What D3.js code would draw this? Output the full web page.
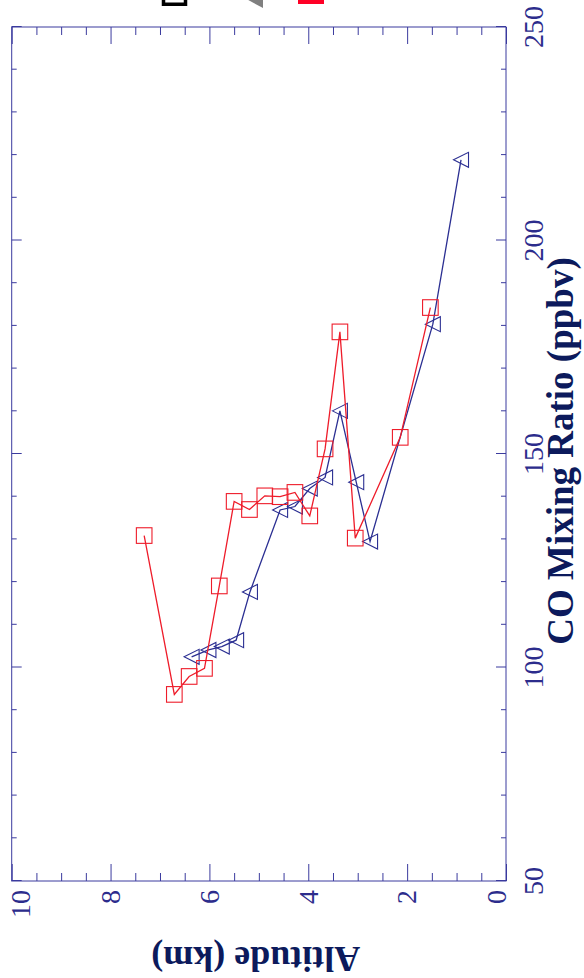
<!DOCTYPE html>
<html>
<head>
<meta charset="utf-8">
<script src="https://cdn.jsdelivr.net/npm/d3@7"></script>
<style>
  html, body { margin: 0; padding: 0; background: #fff; overflow: hidden; }
  svg { display: block; }
</style>
</head>
<body>
<svg id="chart" width="584" height="978"></svg>
<script>
// CO profiles: altitude (km) against CO mixing ratio (ppbv)
const coTicks = [50, 100, 150, 200, 250];
const altTicks = [0, 2, 4, 6, 8, 10];

// Profile drawn with open triangles
const triAlt = [0.91, 1.48, 2.75, 3.03, 3.36, 3.66, 3.97, 4.27, 4.57, 5.18, 5.46, 5.75, 6.02, 6.36];
const triCO  = [218.9, 180.4, 129.5, 143.4, 160.1, 144.5, 141.9, 137.7, 136.9, 117.7, 106.4, 104.9, 104.1, 102.5];

// Profile drawn with open squares
const sqAlt = [1.53, 2.14, 3.05, 3.36, 3.66, 3.97, 4.27, 4.57, 4.88, 5.19, 5.50, 5.80, 6.10, 6.41, 6.71, 7.32];
const sqCO  = [184.3, 153.9, 130.3, 178.6, 151.2, 135.5, 141.0, 140.0, 140.2, 137.0, 138.9, 119.1, 99.8, 97.9, 93.7, 130.9];

// Legend symbols (their labels fall outside the page)
const legendSymbols = ["openSquare", "triangle", "square"];

const W = 978, H = 584;               // landscape drawing space, rotated onto the page
const margin = { left: 97, right: 27, top: 11.7, bottom: 78 };
const axisColor = "#3b3b9e";
const labelColor = "#2c2c8c";
const titleColor = "#0c1a5c";
const triColor = "#2b2f92";
const sqColor = "#ee1c2a";
const serif = "'Liberation Serif', 'Times New Roman', serif";

const x = d3.scaleLinear().domain([50, 250]).range([margin.left, W - margin.right]);
const y = d3.scaleLinear().domain([0, 10]).range([H - margin.bottom, margin.top]);

const svg = d3.select("#chart");
const g = svg.append("g").attr("transform", `translate(0,${W}) rotate(-90)`);

const x0 = x.range()[0], x1 = x.range()[1];
const yTop = y.range()[1], yBot = y.range()[0];

// tick sets
const coMinor = d3.range(50, 251, 10).filter(v => v % 50 !== 0);
const altMinor = d3.range(0, 10.01, 0.5).filter(v => Math.abs(v % 2) > 1e-6);

function styleAxis(sel) {
  sel.select(".domain").remove();
  sel.selectAll(".tick line").attr("stroke", axisColor).attr("stroke-width", 1);
  sel.selectAll(".tick text").remove();
}

// inward ticks on all four sides
[[d3.axisBottom, yBot], [d3.axisTop, yTop]].forEach(([ax, pos]) => {
  g.append("g").attr("transform", `translate(0,${pos})`)
    .call(ax(x).tickValues(coTicks).tickSize(-10)).call(styleAxis);
  g.append("g").attr("transform", `translate(0,${pos})`)
    .call(ax(x).tickValues(coMinor).tickSize(-5)).call(styleAxis);
});
[[d3.axisLeft, x0], [d3.axisRight, x1]].forEach(([ax, pos]) => {
  g.append("g").attr("transform", `translate(${pos},0)`)
    .call(ax(y).tickValues(altTicks).tickSize(-17)).call(styleAxis);
  g.append("g").attr("transform", `translate(${pos},0)`)
    .call(ax(y).tickValues(altMinor).tickSize(-8)).call(styleAxis);
});

// frame
g.append("rect")
  .attr("x", x0).attr("y", yTop)
  .attr("width", x1 - x0).attr("height", yBot - yTop)
  .attr("fill", "none").attr("stroke", axisColor).attr("stroke-width", 1);

// tick labels
const tickFont = 28;
g.append("g").selectAll("text").data(coTicks).join("text")
  .attr("x", d => x(d)).attr("y", yBot + 37)
  .attr("text-anchor", "middle")
  .attr("font-family", serif).attr("font-size", tickFont)
  .attr("fill", labelColor)
  .text(d => d);

const capH = tickFont * 0.66;
g.append("g").selectAll("text").data(altTicks).join("text")
  .attr("x", x0 - 9)
  .attr("y", d => Math.min(yBot, Math.max(yTop + capH, y(d) + capH / 2)))
  .attr("text-anchor", "end")
  .attr("font-family", serif).attr("font-size", tickFont)
  .attr("fill", labelColor)
  .text(d => d);

// axis titles
g.append("text")
  .attr("x", (x0 + x1) / 2 + 3).attr("y", yBot + 67)
  .attr("text-anchor", "middle")
  .attr("font-family", serif).attr("font-size", 37).attr("font-weight", "bold")
  .attr("fill", titleColor)
  .text("CO Mixing Ratio (ppbv)");

g.append("text")
  .attr("transform", `translate(31,${(yTop + yBot) / 2 - 3}) rotate(-90)`)
  .attr("text-anchor", "middle")
  .attr("font-family", serif).attr("font-size", 36).attr("font-weight", "bold")
  .attr("fill", titleColor)
  .text("Altitude (km)");

// profiles
const triData = triAlt.map((a, i) => ({ alt: a, co: triCO[i] }));
const sqData = sqAlt.map((a, i) => ({ alt: a, co: sqCO[i] }));
const line = d3.line().x(d => x(d.co)).y(d => y(d.alt));

g.append("path").datum(triData)
  .attr("d", line).attr("fill", "none")
  .attr("stroke", triColor).attr("stroke-width", 1.3);
g.append("g").selectAll("path").data(triData).join("path")
  .attr("transform", d => `translate(${x(d.co)},${y(d.alt)})`)
  .attr("d", "M0,-7.5L7.5,7.5L-7.5,7.5Z")
  .attr("fill", "none").attr("stroke", triColor).attr("stroke-width", 1.1);

g.append("path").datum(sqData)
  .attr("d", line).attr("fill", "none")
  .attr("stroke", sqColor).attr("stroke-width", 1.3);
g.append("g").selectAll("rect").data(sqData).join("rect")
  .attr("x", d => x(d.co) - 7.8).attr("y", d => y(d.alt) - 7.8)
  .attr("width", 15.6).attr("height", 15.6)
  .attr("fill", "none").attr("stroke", sqColor).attr("stroke-width", 1.1);

// legend, placed past the right edge of the frame
const legend = g.append("g");
const legendPos = [
  { cx: 984.75, cy: 174.5 },
  { cx: 983, cy: 251 },
  { cx: 987, cy: 311 }
];
legendSymbols.forEach((s, i) => {
  const p = legendPos[i];
  if (s === "openSquare") {
    legend.append("rect")
      .attr("x", p.cx - 11).attr("y", p.cy - 11).attr("width", 22).attr("height", 22)
      .attr("fill", "none").attr("stroke", "#000").attr("stroke-width", 3.5);
  } else if (s === "triangle") {
    legend.append("path")
      .attr("transform", `translate(${p.cx},${p.cy})`)
      .attr("d", "M0,-12L13,12L-13,12Z")
      .attr("fill", "#808080");
  } else {
    legend.append("rect")
      .attr("x", p.cx - 13).attr("y", p.cy - 13).attr("width", 26).attr("height", 26)
      .attr("fill", "#ff0026");
  }
});
</script>
</body>
</html>
